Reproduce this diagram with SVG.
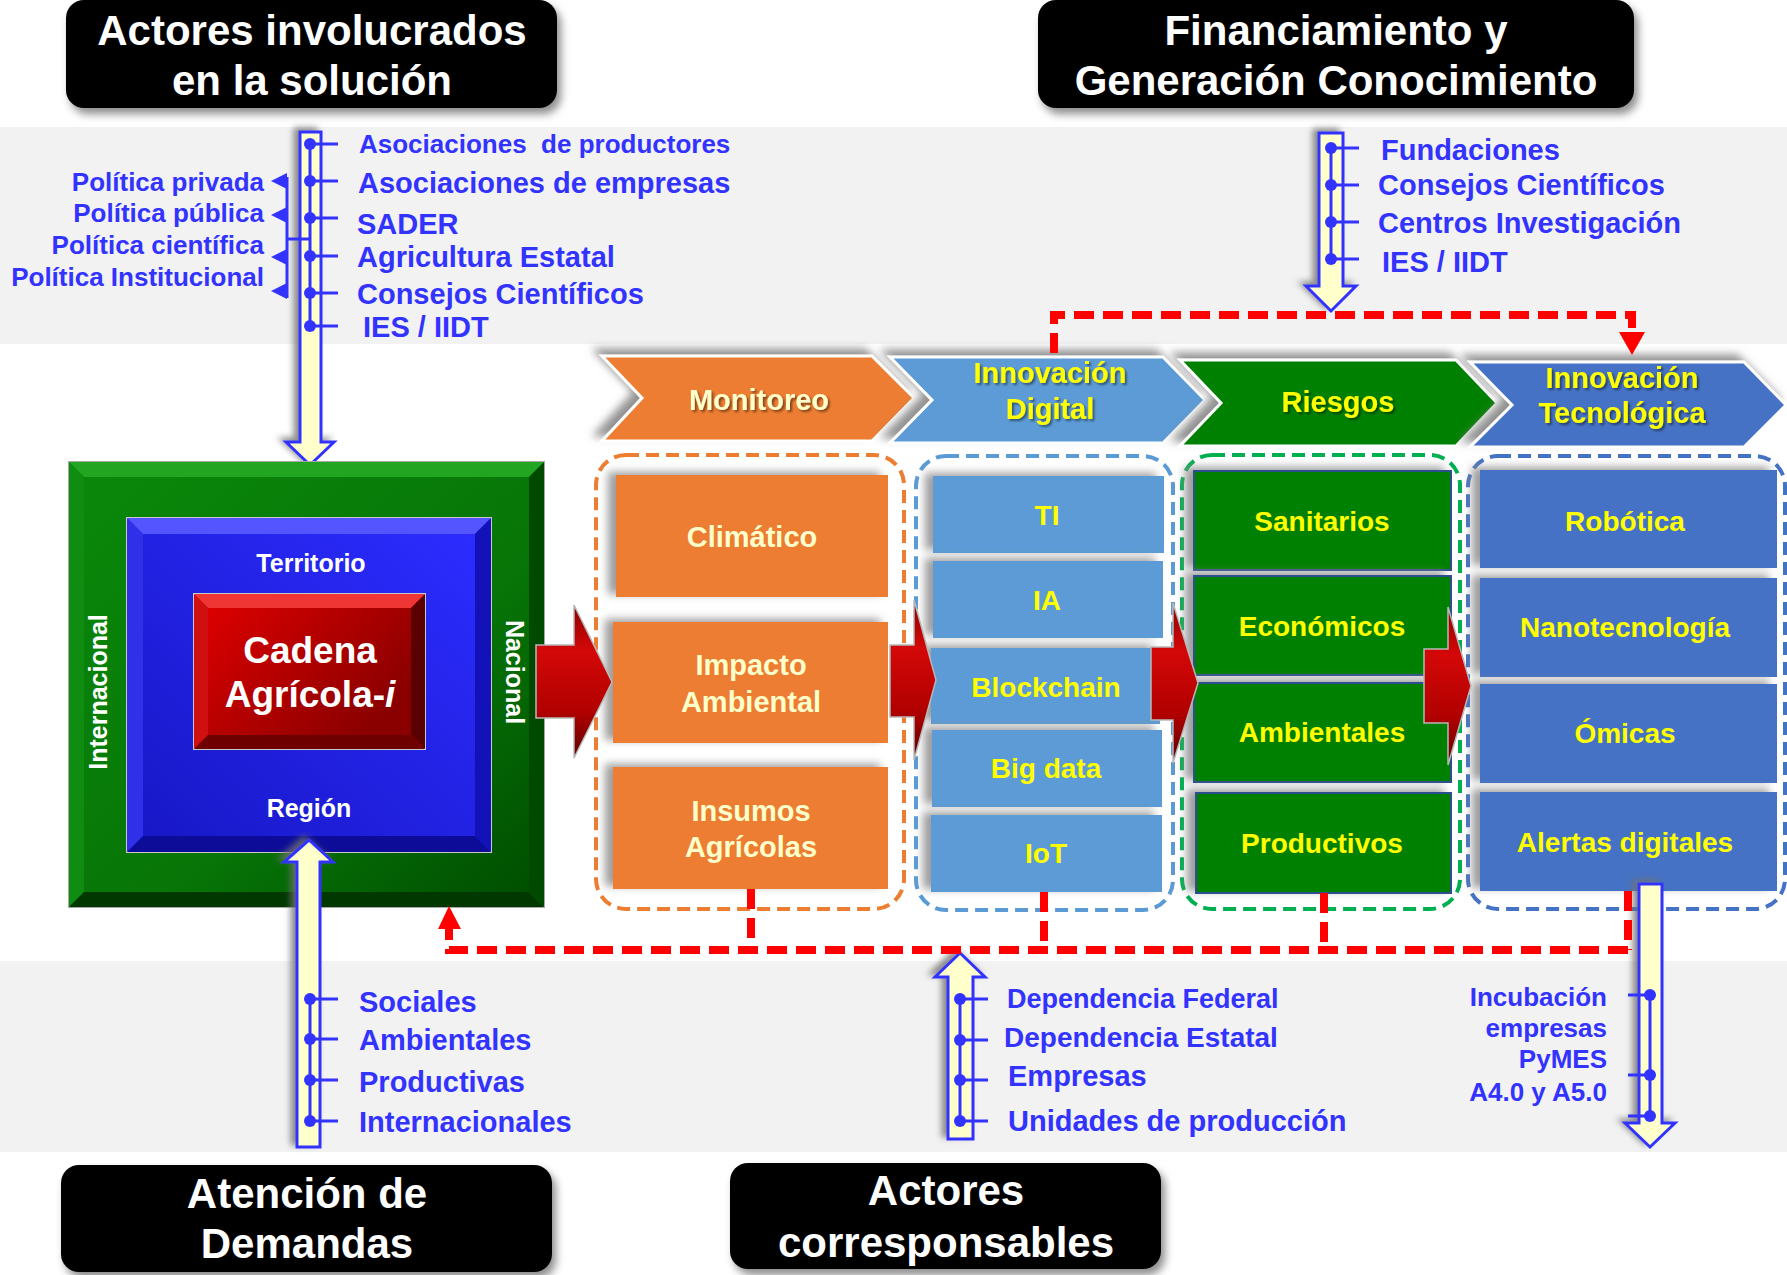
<svg xmlns="http://www.w3.org/2000/svg" width="1787" height="1275" viewBox="0 0 1787 1275">
  <defs>
    <style>
      text { font-family: "Liberation Sans", Arial, sans-serif; font-weight: bold; }
      .ttl { fill: #FFFFFF; font-size: 42px; text-anchor: middle; }
      .lst { fill: #3333FF; font-size: 29px; }
      .pol { fill: #3333FF; font-size: 26px; text-anchor: end; }
      .yarrow { fill: #FFFFCC; stroke: #3333FF; stroke-width: 3; }
      .spine { stroke: #3333FF; stroke-width: 3; fill: none; }
      .dot { fill: #3333FF; }
      .fb { fill: none; stroke: #FF0000; stroke-width: 8; stroke-dasharray: 20 9; }
      .fbhead { fill: #FF0000; }
      .chev { stroke: #FFFFFF; stroke-width: 3; }
      .clbl { font-size: 29px; text-anchor: middle; fill: #FFFF00; }
      .cream { fill: #FFFFCC; }
      .blbl { font-size: 28px; text-anchor: middle; fill: #FFFF00; }
      .olbl { font-size: 29px; text-anchor: middle; fill: #FFFFCC; }
      .grp { fill: none; stroke-width: 4; stroke-dasharray: 13 7; }
      .wlbl { fill: #FFFFFF; font-size: 25px; text-anchor: middle; }
      .rarrow { fill: url(#redArrow); stroke: #B8B8B8; stroke-width: 1.5; }
      .pre { white-space: pre; }
    </style>
    <filter id="shTitle" x="-10%" y="-10%" width="125%" height="140%">
      <feDropShadow dx="4" dy="6" stdDeviation="4" flood-color="#000000" flood-opacity="0.45"/>
    </filter>
    <filter id="shUL" x="-15%" y="-20%" width="130%" height="140%">
      <feDropShadow dx="-7" dy="-6" stdDeviation="4" flood-color="#7F7F7F" flood-opacity="0.85"/>
    </filter>
    <filter id="shBox" x="-15%" y="-15%" width="130%" height="130%">
      <feDropShadow dx="-8" dy="-3" stdDeviation="4" flood-color="#8C8C8C" flood-opacity="0.85"/>
    </filter>
    <filter id="shArrow" x="-60%" y="-10%" width="220%" height="120%">
      <feDropShadow dx="-5" dy="-3" stdDeviation="3" flood-color="#707070" flood-opacity="0.8"/>
    </filter>
    <filter id="shText" x="-10%" y="-20%" width="120%" height="150%">
      <feDropShadow dx="2" dy="2" stdDeviation="1.2" flood-color="#000000" flood-opacity="0.45"/>
    </filter>
    <linearGradient id="redArrow" x1="0" y1="0" x2="0" y2="1">
      <stop offset="0" stop-color="#8E0000"/>
      <stop offset="0.3" stop-color="#D40808"/>
      <stop offset="0.7" stop-color="#B00000"/>
      <stop offset="1" stop-color="#5E0000"/>
    </linearGradient>
    <linearGradient id="greenFace" x1="0" y1="0" x2="1" y2="1">
      <stop offset="0" stop-color="#0A880A"/>
      <stop offset="0.6" stop-color="#077507"/>
      <stop offset="1" stop-color="#004F00"/>
    </linearGradient>
    <linearGradient id="blueFace" x1="1" y1="0" x2="0" y2="1">
      <stop offset="0" stop-color="#2C2CFF"/>
      <stop offset="1" stop-color="#1818C8"/>
    </linearGradient>
    <linearGradient id="redFace" x1="0" y1="0" x2="1" y2="0.6">
      <stop offset="0" stop-color="#DC0000"/>
      <stop offset="1" stop-color="#8A0000"/>
    </linearGradient>
  </defs>

  <!-- background bands -->
  <rect x="0" y="0" width="1787" height="1275" fill="#FFFFFF"/>
  <rect x="0" y="127" width="1787" height="217" fill="#F2F2F2"/>
  <rect x="0" y="961" width="1787" height="191" fill="#F2F2F2"/>

  <!-- title boxes -->
  <g id="title-actores-involucrados">
    <rect x="66" y="0" width="491" height="108" rx="18" fill="#000000" filter="url(#shTitle)"/>
    <text class="ttl" x="312" y="45">Actores involucrados</text>
    <text class="ttl" x="312" y="95">en la solución</text>
  </g>
  <g id="title-financiamiento">
    <rect x="1038" y="0" width="596" height="108" rx="18" fill="#000000" filter="url(#shTitle)"/>
    <text class="ttl" x="1336" y="45">Financiamiento y</text>
    <text class="ttl" x="1336" y="95">Generación Conocimiento</text>
  </g>
  <g id="title-atencion-demandas">
    <rect x="61" y="1165" width="491" height="107" rx="18" fill="#000000" filter="url(#shTitle)"/>
    <text class="ttl" x="307" y="1208">Atención de</text>
    <text class="ttl" x="307" y="1258">Demandas</text>
  </g>
  <g id="title-corresponsables">
    <rect x="730" y="1163" width="431" height="106" rx="18" fill="#000000" filter="url(#shTitle)"/>
    <text class="ttl" x="946" y="1205">Actores</text>
    <text class="ttl" x="946" y="1257">corresponsables</text>
  </g>

  <!-- actors list: involved in the solution -->
  <g id="list-actores-involucrados">
    <path class="yarrow" filter="url(#shArrow)" d="M300,132 H321 V442 H334 L310,465 L286,442 H300 Z"/>
    <path class="spine" d="M310,144 V326 M310,144 H338 M310,181 H338 M310,218 H338 M310,256 H338 M310,293 H338 M310,326 H338"/>
    <circle class="dot" cx="310" cy="144" r="6"/>
    <circle class="dot" cx="310" cy="181" r="6"/>
    <circle class="dot" cx="310" cy="218" r="6"/>
    <circle class="dot" cx="310" cy="256" r="6"/>
    <circle class="dot" cx="310" cy="293" r="6"/>
    <circle class="dot" cx="310" cy="326" r="6"/>
    <text class="lst pre" x="359" y="153" style="font-size:26px" xml:space="preserve">Asociaciones  de productores</text>
    <text class="lst" x="358" y="193">Asociaciones de empresas</text>
    <text class="lst" x="357" y="234">SADER</text>
    <text class="lst" x="357" y="267">Agricultura Estatal</text>
    <text class="lst" x="357" y="304">Consejos Científicos</text>
    <text class="lst" x="363" y="337">IES / IIDT</text>
    <!-- policy bracket -->
    <path class="spine" d="M287,177 V298 M287,239 H310"/>
    <polygon class="dot" points="271,181 287,173 287,189"/>
    <polygon class="dot" points="271,215 287,207 287,223"/>
    <polygon class="dot" points="271,257 287,249 287,265"/>
    <polygon class="dot" points="271,291 287,283 287,299"/>
    <text class="pol" x="264" y="191">Política privada</text>
    <text class="pol" x="264" y="222">Política pública</text>
    <text class="pol" x="264" y="254">Política científica</text>
    <text class="pol" x="264" y="286">Política Institucional</text>
  </g>

  <!-- funding list -->
  <g id="list-financiamiento">
    <path class="yarrow" filter="url(#shArrow)" d="M1319,133 H1343 V286 H1356 L1331,311 L1306,286 H1319 Z"/>
    <path class="spine" d="M1331,148 V259 M1331,148 H1359 M1331,185 H1359 M1331,222 H1359 M1331,259 H1359"/>
    <circle class="dot" cx="1331" cy="148" r="6"/>
    <circle class="dot" cx="1331" cy="185" r="6"/>
    <circle class="dot" cx="1331" cy="222" r="6"/>
    <circle class="dot" cx="1331" cy="259" r="6"/>
    <text class="lst" x="1381" y="160">Fundaciones</text>
    <text class="lst" x="1378" y="195">Consejos Científicos</text>
    <text class="lst" x="1378" y="233">Centros Investigación</text>
    <text class="lst" x="1382" y="272">IES / IIDT</text>
  </g>

  <!-- stage chevrons -->
  <g id="chevron-monitoreo">
    <polygon class="chev" filter="url(#shUL)" fill="#ED7D31" points="602,356 872,356 914,398 872,441 602,441 642,398"/>
    <text class="clbl cream" x="759" y="410" filter="url(#shText)">Monitoreo</text>
  </g>
  <g id="chevron-innovacion-digital">
    <polygon class="chev" filter="url(#shUL)" fill="#5B9BD5" points="890,357 1163,357 1205,400 1163,443 890,443 932,400"/>
    <text class="clbl" x="1050" y="383" filter="url(#shText)">Innovación</text>
    <text class="clbl" x="1050" y="419" filter="url(#shText)">Digital</text>
  </g>
  <g id="chevron-riesgos">
    <polygon class="chev" filter="url(#shUL)" fill="#008000" points="1180,360 1456,360 1497,403 1456,446 1180,446 1221,403"/>
    <text class="clbl" x="1338" y="412" filter="url(#shText)">Riesgos</text>
  </g>
  <g id="chevron-innovacion-tecnologica">
    <polygon class="chev" filter="url(#shUL)" fill="#4472C4" points="1470,362 1744,362 1786,405 1744,447 1470,447 1512,405"/>
    <text class="clbl" x="1622" y="388" filter="url(#shText)">Innovación</text>
    <text class="clbl" x="1622" y="423" filter="url(#shText)">Tecnológica</text>
  </g>

  <!-- group frames -->
  <rect class="grp" x="596" y="455" width="308" height="454" rx="30" stroke="#ED7D31"/>
  <rect class="grp" x="916" y="456" width="257" height="454" rx="30" stroke="#5B9BD5"/>
  <rect class="grp" x="1182" y="455" width="278" height="454" rx="30" stroke="#00B050"/>
  <rect class="grp" x="1468" y="456" width="317" height="453" rx="30" stroke="#4472C4"/>

  <!-- monitoring items -->
  <g id="box-climatico">
    <rect x="616" y="475" width="272" height="122" fill="#ED7D31" filter="url(#shBox)"/>
    <text class="olbl" x="752" y="547">Climático</text>
  </g>
  <g id="box-impacto-ambiental">
    <rect x="613" y="622" width="275" height="121" fill="#ED7D31" filter="url(#shBox)"/>
    <text class="olbl" x="751" y="675">Impacto</text>
    <text class="olbl" x="751" y="712">Ambiental</text>
  </g>
  <g id="box-insumos-agricolas">
    <rect x="613" y="767" width="275" height="122" fill="#ED7D31" filter="url(#shBox)"/>
    <text class="olbl" x="751" y="821">Insumos</text>
    <text class="olbl" x="751" y="857">Agrícolas</text>
  </g>

  <!-- digital innovation items -->
  <g id="box-ti">
    <rect x="933" y="476" width="231" height="77" fill="#5B9BD5" filter="url(#shBox)"/>
    <text class="blbl" x="1047" y="525">TI</text>
  </g>
  <g id="box-ia">
    <rect x="933" y="561" width="230" height="77" fill="#5B9BD5" filter="url(#shBox)"/>
    <text class="blbl" x="1047" y="610">IA</text>
  </g>
  <g id="box-blockchain">
    <rect x="931" y="648" width="229" height="76" fill="#5B9BD5" filter="url(#shBox)"/>
    <text class="blbl" x="1046" y="697">Blockchain</text>
  </g>
  <g id="box-big-data">
    <rect x="932" y="730" width="230" height="77" fill="#5B9BD5" filter="url(#shBox)"/>
    <text class="blbl" x="1046" y="778">Big data</text>
  </g>
  <g id="box-iot">
    <rect x="931" y="815" width="231" height="77" fill="#5B9BD5" filter="url(#shBox)"/>
    <text class="blbl" x="1046" y="863">IoT</text>
  </g>

  <!-- risk items -->
  <g id="box-sanitarios">
    <rect x="1194" y="471" width="257" height="99" fill="#008000" stroke="#2F4F8F" stroke-width="2" filter="url(#shBox)"/>
    <text class="blbl" x="1322" y="531">Sanitarios</text>
  </g>
  <g id="box-economicos">
    <rect x="1194" y="576" width="257" height="99" fill="#008000" stroke="#2F4F8F" stroke-width="2" filter="url(#shBox)"/>
    <text class="blbl" x="1322" y="636">Económicos</text>
  </g>
  <g id="box-ambientales">
    <rect x="1194" y="683" width="257" height="99" fill="#008000" stroke="#2F4F8F" stroke-width="2" filter="url(#shBox)"/>
    <text class="blbl" x="1322" y="742">Ambientales</text>
  </g>
  <g id="box-productivos">
    <rect x="1196" y="793" width="255" height="100" fill="#008000" stroke="#2F4F8F" stroke-width="2" filter="url(#shBox)"/>
    <text class="blbl" x="1322" y="853">Productivos</text>
  </g>

  <!-- technology items -->
  <g id="box-robotica">
    <rect x="1480" y="470" width="297" height="98" fill="#4472C4" filter="url(#shBox)"/>
    <text class="blbl" x="1625" y="531">Robótica</text>
  </g>
  <g id="box-nanotecnologia">
    <rect x="1480" y="578" width="297" height="99" fill="#4472C4" filter="url(#shBox)"/>
    <text class="blbl" x="1625" y="637">Nanotecnología</text>
  </g>
  <g id="box-omicas">
    <rect x="1480" y="684" width="297" height="99" fill="#4472C4" filter="url(#shBox)"/>
    <text class="blbl" x="1625" y="743">Ómicas</text>
  </g>
  <g id="box-alertas">
    <rect x="1480" y="792" width="297" height="99" fill="#4472C4" filter="url(#shBox)"/>
    <text class="blbl" x="1625" y="852">Alertas digitales</text>
  </g>

  <!-- nested scope square -->
  <g id="cadena-agricola">
    <rect x="69" y="462" width="475" height="445" fill="#0A7A0A" stroke="#A8A8A8" stroke-width="2"/>
    <polygon points="69,462 544,462 529,477 84,477" fill="#22A622"/>
    <polygon points="69,462 84,477 84,892 69,907" fill="#108C10"/>
    <polygon points="544,462 544,907 529,892 529,477" fill="#004A00"/>
    <polygon points="69,907 544,907 529,892 84,892" fill="#003800"/>
    <rect x="84" y="477" width="445" height="415" fill="url(#greenFace)"/>

    <rect x="127" y="518" width="364" height="334" fill="#2020F0" stroke="#C8C8C8" stroke-width="2"/>
    <polygon points="127,518 491,518 475,534 143,534" fill="#5555FF"/>
    <polygon points="127,518 143,534 143,836 127,852" fill="#3030E8"/>
    <polygon points="491,518 491,852 475,836 475,534" fill="#1212B8"/>
    <polygon points="127,852 491,852 475,836 143,836" fill="#0C0C98"/>
    <rect x="143" y="534" width="332" height="302" fill="url(#blueFace)"/>

    <rect x="194" y="594" width="231" height="155" fill="#C00000" stroke="#C8C8C8" stroke-width="2"/>
    <polygon points="194,594 425,594 411,608 208,608" fill="#F03535"/>
    <polygon points="194,594 208,608 208,735 194,749" fill="#D01010"/>
    <polygon points="425,594 425,749 411,735 411,608" fill="#5A0000"/>
    <polygon points="194,749 425,749 411,735 208,735" fill="#6E0000"/>
    <rect x="208" y="608" width="203" height="127" fill="url(#redFace)"/>

    <text class="wlbl" x="311" y="572">Territorio</text>
    <text class="wlbl" x="309" y="817">Región</text>
    <text fill="#FFFFFF" font-size="37" text-anchor="middle" x="310" y="663">Cadena</text>
    <text fill="#FFFFFF" font-size="37" text-anchor="middle" x="310" y="707">Agrícola-<tspan font-style="italic">i</tspan></text>
    <text class="wlbl" transform="translate(107,692) rotate(-90)" x="0" y="0">Internacional</text>
    <text class="wlbl" transform="translate(506,672) rotate(90)" x="0" y="0">Nacional</text>
  </g>

  <!-- demand list (upward) -->
  <g id="list-demandas">
    <path class="yarrow" filter="url(#shArrow)" d="M297,1147 V862 H284 L309,840 L333,862 H320 V1147 Z"/>
    <path class="spine" d="M310,999 V1121 M310,999 H338 M310,1039 H338 M310,1080 H338 M310,1121 H338"/>
    <circle class="dot" cx="310" cy="999" r="6"/>
    <circle class="dot" cx="310" cy="1039" r="6"/>
    <circle class="dot" cx="310" cy="1080" r="6"/>
    <circle class="dot" cx="310" cy="1121" r="6"/>
    <text class="lst" x="359" y="1012">Sociales</text>
    <text class="lst" x="359" y="1050">Ambientales</text>
    <text class="lst" x="359" y="1092">Productivas</text>
    <text class="lst" x="359" y="1132">Internacionales</text>
  </g>

  <!-- co-responsible actors list (upward) -->
  <g id="list-corresponsables">
    <path class="yarrow" filter="url(#shArrow)" d="M948,1139 V977 H935 L960,953 L985,977 H973 V1139 Z"/>
    <path class="spine" d="M960,999 V1121 M960,999 H988 M960,1040 H988 M960,1080 H988 M960,1121 H988"/>
    <circle class="dot" cx="960" cy="999" r="6"/>
    <circle class="dot" cx="960" cy="1040" r="6"/>
    <circle class="dot" cx="960" cy="1080" r="6"/>
    <circle class="dot" cx="960" cy="1121" r="6"/>
    <text class="lst" x="1007" y="1008" style="font-size:27px">Dependencia Federal</text>
    <text class="lst" x="1004" y="1047" style="font-size:28px">Dependencia Estatal</text>
    <text class="lst" x="1008" y="1086">Empresas</text>
    <text class="lst" x="1008" y="1131">Unidades de producción</text>
  </g>

  <!-- business incubation list (downward) -->
  <g id="list-incubacion">
    <path class="yarrow" filter="url(#shArrow)" d="M1639,884 H1662 V1123 H1675 L1650,1147 L1625,1123 H1639 Z"/>
    <path class="spine" d="M1650,995 V1116 M1628,995 H1650 M1628,1075 H1650 M1628,1116 H1650"/>
    <circle class="dot" cx="1650" cy="995" r="6"/>
    <circle class="dot" cx="1650" cy="1075" r="6"/>
    <circle class="dot" cx="1650" cy="1116" r="6"/>
    <text class="pol" x="1607" y="1006">Incubación</text>
    <text class="pol" x="1607" y="1037">empresas</text>
    <text class="pol" x="1607" y="1068">PyMES</text>
    <text class="pol" x="1607" y="1101">A4.0 y A5.0</text>
  </g>

  <!-- connectors -->
  <g id="connectors">
    <!-- flow arrows between stages -->
    <path class="rarrow" d="M536,645 H574 V605 L612,682 L574,758 V718 H536 Z"/>
    <path class="rarrow" d="M890,645 H914 V600 L936,680 L914,760 V717 H890 Z"/>
    <path class="rarrow" d="M1151,647 H1173 V603 L1198,683 L1173,763 V720 H1151 Z"/>
    <path class="rarrow" d="M1424,649 H1448 V607 L1471,686 L1448,765 V723 H1424 Z"/>
    <!-- funding feedback to technology innovation -->
    <path class="fb" d="M1054,353 V315 H1632 V333"/>
    <polygon class="fbhead" points="1619,332 1645,332 1632,355"/>
    <!-- return loop to the agricultural chain -->
    <path class="fb" d="M751,889 V950 M1044,892 V950 M1324,893 V950 M1628,891 V950"/>
    <path class="fb" d="M1628,950 H449 V929"/>
    <polygon class="fbhead" points="438,929 461,929 449,906"/>
  </g>
</svg>
